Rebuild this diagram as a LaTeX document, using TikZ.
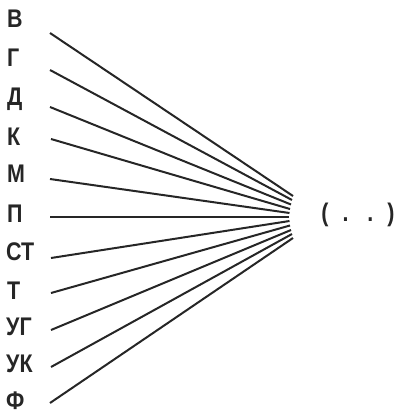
\documentclass[tikz,border=0pt]{standalone}
\usepackage{fontspec}
\setmainfont{Liberation Sans}
\newfontfamily\lblfont[FakeStretch=0.84]{Liberation Sans}
\usepackage{xcolor}
\usepackage{tikz}
\definecolor{InkGray}{HTML}{262626}

\begin{document}
\begin{tikzpicture}[x=1pt,y=-1pt,
  lbl/.style={anchor=west,inner sep=0pt,text=InkGray,font=\lblfont\fontsize{25.5}{30}\selectfont\bfseries},
  wire/.style={InkGray,line width=2pt}]
  \useasboundingbox (0,0) rectangle (405,418);
  % labels on the left
  \node[lbl] (nV) at (7,19) {В};
  \node[lbl] (nG) at (7,58) {Г};
  \node[lbl] (nD) at (7,99) {Д};
  \node[lbl] (nK) at (7,137) {К};
  \node[lbl] (nM) at (7,174) {М};
  \node[lbl] (nP) at (7,214) {П};
  \node[lbl] (nST) at (6,252) {СТ};
  \node[lbl] (nT) at (7,291) {Т};
  \node[lbl] (nUG) at (6,327) {УГ};
  \node[lbl] (nUK) at (6,364) {УК};
  \node[lbl] (nF) at (6,401) {Ф};
  \node[lbl,anchor=center] (dots) at (358,215) {(\hspace{14pt}.\hspace{19pt}.\hspace{14pt})};
  % start and end points of the lines
  \coordinate (sV) at (50,33);
  \coordinate (sG) at (50,70);
  \coordinate (sD) at (50,107);
  \coordinate (sK) at (51,139);
  \coordinate (sM) at (50,179);
  \coordinate (sP) at (50,217);
  \coordinate (sST) at (51,258);
  \coordinate (sT) at (51,293);
  \coordinate (sUG) at (51,330);
  \coordinate (sUK) at (51,367);
  \coordinate (sF) at (50,403);
  \coordinate (eV) at (293,196);
  \coordinate (eG) at (292,200);
  \coordinate (eD) at (291,204.5);
  \coordinate (eK) at (290,209);
  \coordinate (eM) at (289.5,213);
  \coordinate (eP) at (289,217);
  \coordinate (eST) at (289.5,221);
  \coordinate (eT) at (290,225.5);
  \coordinate (eUG) at (291,230);
  \coordinate (eUK) at (292,234);
  \coordinate (eF) at (293,238);
  \draw[wire] (sV) -- (eV);
  \draw[wire] (sG) -- (eG);
  \draw[wire] (sD) -- (eD);
  \draw[wire] (sK) -- (eK);
  \draw[wire] (sM) -- (eM);
  \draw[wire] (sP) -- (eP);
  \draw[wire] (sST) -- (eST);
  \draw[wire] (sT) -- (eT);
  \draw[wire] (sUG) -- (eUG);
  \draw[wire] (sUK) -- (eUK);
  \draw[wire] (sF) -- (eF);
\end{tikzpicture}
\end{document}
